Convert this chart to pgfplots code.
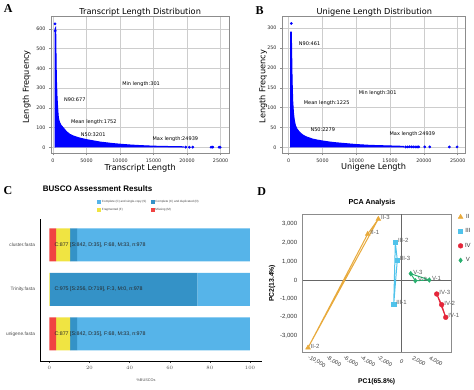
\documentclass[border=0pt]{standalone}
\usepackage{fontspec}
\setmainfont{Liberation Sans}
\newfontfamily\dv{DejaVu Sans}
\newfontfamily\tnr{Liberation Serif}
\usepackage{pgfplots}
\pgfplotsset{compat=1.18}
\definecolor{bscS}{HTML}{56B4E9}
\definecolor{bscD}{HTML}{3492C7}
\definecolor{bscF}{HTML}{F0E442}
\definecolor{bscM}{HTML}{F04442}
\definecolor{cII}{RGB}{232,170,60}
\definecolor{cIII}{RGB}{80,195,235}
\definecolor{cIV}{RGB}{228,38,58}
\definecolor{cV}{RGB}{40,175,110}
\definecolor{gridg}{RGB}{205,205,205}
\definecolor{frameg}{RGB}{140,140,140}
\tikzset{ann/.style={anchor=west, inner sep=0pt, font=\dv\fontsize{5}{6}\selectfont},
  barlab/.style={anchor=west, inner sep=0pt, font=\fontsize{5.3}{6}\selectfont, text=black!85}}
\pgfplotsset{
  every axis title/.style={},
  mplstyle/.style={scale only axis, axis line style={frameg, line width=0.6pt},
    grid=major, grid style={gridg, line width=0.5pt},
    tick align=outside, major tick length=2pt, tick style={frameg, line width=0.5pt},
    xtick pos=left, ytick pos=left,
    ticklabel style={font=\dv\fontsize{4.8}{5.2}\selectfont, text=black!85},
    /pgf/number format/assume math mode=true, /pgf/number format/1000 sep={},
    scaled ticks=false, xtick={0,5000,...,25000},
    title style={font=\dv\fontsize{8.2}{9}\selectfont, anchor=base},
    label style={font=\dv\fontsize{8.2}{9}\selectfont},
    every axis plot/.append style={blue}}
}
\begin{document}
\begin{tikzpicture}[x=1pt,y=1pt]
\path[use as bounding box] (0,0) rectangle (474,389);
% ---------------- A
\begin{axis}[mplstyle, at={(51pt,235.5pt)}, anchor=south west, width=178.3pt, height=137.5pt,
  xmin=-300, xmax=26300, ymin=-31, ymax=665, ytick={0,100,...,600},
  title={Transcript Length Distribution}, title style={at={(0.5,1.0095)}},
  xlabel={Transcript Length}, xlabel style={at={(0.5,-0.1055)}, anchor=center},
  ylabel={Length Frequency}, ylabel style={at={(-0.1363,0.484)}, anchor=center}]
\addplot[fill=blue, draw=blue, line width=1pt] coordinates {(301,0) (301,600) (380,605) (420,560) (460,430) (520,330) (600,255) (700,195) (800,150) (900,135) (1000,125) (1200,112) (1500,100) (2000,80) (2500,66) (3000,58) (3500,52) (4000,47) (5000,39) (6000,33) (7000,27) (8000,23) (9000,19) (10000,16) (11500,12) (13000,9) (15000,6) (17000,4.5) (19500,3) (19500,0)};
\addplot[only marks, mark=*, mark size=1.2pt] coordinates {(301,625) (330,590) (19800,1) (20340,1) (20850,1) (23580,1) (23830,1) (24780,1) (24939,1)};
\node[ann] at (axis cs:10300,320) {Min length:301};
\node[ann] at (axis cs:1630,242) {N90:677};
\node[ann] at (axis cs:2660,130) {Mean length:1752};
\node[ann] at (axis cs:4140,64) {N50:3201};
\node[ann] at (axis cs:14840,44) {Max length:24939};
\end{axis}
% ---------------- B
\begin{axis}[mplstyle, at={(282pt,235.7pt)}, anchor=south west, width=183.3pt, height=136.6pt,
  xmin=-990, xmax=26120, ymin=-15, ymax=329, ytick={0,50,...,300},
  title={Unigene Length Distribution}, title style={at={(0.5036,1.0146)}},
  xlabel={Unigene Length}, xlabel style={at={(0.5,-0.105)}, anchor=center},
  ylabel={Length Frequency}, ylabel style={at={(-0.1037,0.4876)}, anchor=center}]
\addplot[fill=blue, draw=blue, line width=1pt] coordinates {(301,0) (301,290) (380,290) (430,250) (480,190) (540,145) (600,115) (700,88) (800,72) (900,62) (1000,55) (1200,47) (1500,40) (2000,32) (2500,27) (3000,24) (3500,21) (4000,19) (5000,16) (6000,13.5) (7000,11.5) (8000,10) (9000,8.5) (10000,7) (12000,5) (14000,4) (16000,3) (17000,2.5) (17000,0)};
\addplot[only marks, mark=*, mark size=1.2pt] coordinates {(385,312) (5000,9) (17300,1) (17600,1) (17900,1.5) (18200,1) (18500,1) (18800,1) (19000,1) (19230,1) (20120,1) (20860,1) (23760,1) (24900,1)};
\node[ann] at (axis cs:1480,261) {N90:461};
\node[ann] at (axis cs:10350,136) {Min length:301};
\node[ann] at (axis cs:2220,111) {Mean length:1225};
\node[ann] at (axis cs:3200,45) {N50:2279};
\node[ann] at (axis cs:14900,34) {Max length:24939};
\end{axis}
% ---------------- C
\begin{axis}[at={(40pt,28pt)}, anchor=south west, scale only axis, width=222pt, height=142pt,
  xbar stacked, bar width=33pt, xmin=-4.65, xmax=106, ymin=-0.61, ymax=2.58,
  axis lines=left, axis line style={-, black, line width=0.7pt},
  ytick={0,1,2}, yticklabels={unigene.fasta,Trinity.fasta,cluster.fasta},
  xtick={0,20,...,100}, ytick style={draw=none}, xtick style={black!70, line width=0.4pt},
  major tick length=1.5pt, tick align=outside,
  ticklabel style={font=\fontsize{4.8}{5.5}\selectfont, text=black!70},
  xlabel={\%BUSCOs}, xlabel style={at={(0.4775,-0.134)}, anchor=center, font=\fontsize{3.8}{4.5}\selectfont, text=black!70},
  title={BUSCO Assessment Results}, title style={at={(-0.003,1.211)}, anchor=west, font=\bfseries\fontsize{8}{9}\selectfont},
  reverse legend, legend columns=2, legend cell align=left,
  legend style={at={(0.258,1.139)}, anchor=north west, draw=none, fill=none, inner sep=0pt,
    font=\fontsize{3}{3.5}\selectfont, text=black!75, nodes={inner sep=0.5pt},
    row sep=3.5pt, /tikz/every even column/.append style={column sep=4pt}},
  legend image code/.code={\fill[#1] (0pt,-2pt) rectangle (4pt,2pt);},
  after end axis/.code={
    \node[barlab] at (axis cs:2.5,2) {C:877 [S:842, D:35], F:68, M:33, n:978};
    \node[barlab] at (axis cs:2.5,1) {C:975 [S:256, D:719], F:3, M:0, n:978};
    \node[barlab] at (axis cs:2.5,0) {C:877 [S:842, D:35], F:68, M:33, n:978};
  }]
\addplot[fill=bscM, draw=none] coordinates {(3.37,2) (0,1) (3.37,0)};
\addlegendentry{Missing (M)}
\addplot[fill=bscF, draw=none] coordinates {(6.95,2) (0.31,1) (6.95,0)};
\addlegendentry{Fragmented (F)}
\addplot[fill=bscD, draw=none] coordinates {(3.58,2) (73.52,1) (3.58,0)};
\addlegendentry{Complete (C) and duplicated (D)}
\addplot[fill=bscS, draw=none] coordinates {(86.09,2) (26.18,1) (86.09,0)};
\addlegendentry{Complete (C) and single-copy (S)}
\end{axis}
% ---------------- D
\begin{axis}[at={(302.7pt,37pt)}, anchor=south west, scale only axis, width=148.3pt, height=138pt,
  xmin=-11650, xmax=5800, ymin=-3877, ymax=3554,
  axis line style={frameg, line width=0.8pt},
  xtick={-10000,-8000,...,4000}, ytick={-3000,-2000,...,3000}, major tick length=0pt,
  ticklabel style={font=\fontsize{6}{7}\selectfont, text=black!80},
  /pgf/number format/assume math mode=true, /pgf/number format/1000 sep={,}, scaled ticks=false,
  xticklabel style={font=\fontsize{5.6}{6}\selectfont, yshift=-9.5pt, rotate=-30, anchor=center}, yticklabel style={xshift=-2pt},
  title={PCA Analysis}, title style={at={(0.467,1.085)}, anchor=center, font=\bfseries\fontsize{7.2}{8}\selectfont},
  xlabel={PC1(65.8\%)}, xlabel style={at={(0.499,-0.2174)}, anchor=center, font=\bfseries\fontsize{6.8}{8}\selectfont},
  ylabel={PC2(13.4\%)}, ylabel style={at={(-0.207,0.498)}, anchor=center, font=\bfseries\fontsize{6.8}{8}\selectfont},
  legend style={at={(1.047,1.0145)}, anchor=north west, draw=none, fill=none, inner sep=0pt,
    font=\fontsize{6}{7}\selectfont, text=black!80, row sep=4.8pt},
  every node near coord/.style={anchor=west, font=\fontsize{6}{7}\selectfont, text=black!65, inner sep=0pt, xshift=2.5pt, yshift=1.5pt}]
\addplot[black!60, line width=0.8pt, forget plot] coordinates {(-11650,0) (5800,0)};
\addplot[black!60, line width=0.8pt, forget plot] coordinates {(0,-3877) (0,3554)};
\addplot[cII, line width=1pt, forget plot] coordinates {(-4000,2477) (-11020,-3645) (-2750,3285) (-4000,2477)};
\addplot[cIII, line width=1pt, forget plot] coordinates {(-940,-1310) (-750,2030) (-520,1077) (-940,-1310)};
\addplot[cIV, line width=1pt, forget plot] coordinates {(5180,-2010) (4700,-1330) (4120,-754) (5180,-2010)};
\addplot[cV, line width=1pt, forget plot] coordinates {(3250,0) (1600,-40) (1060,340) (3250,0)};
\addplot[only marks, cII, mark=triangle*, mark size=2.8pt, nodes near coords, point meta=explicit symbolic] coordinates {(-4000,2477)[II-1] (-11020,-3645)[II-2] (-2750,3285)[II-3]};
\addlegendentry{II}
\addplot[only marks, cIII, mark=square*, mark size=2.1pt, nodes near coords, point meta=explicit symbolic] coordinates {(-940,-1310)[III-1] (-750,2030)[III-2] (-520,1077)[III-3]};
\addlegendentry{III}
\addplot[only marks, cIV, mark=*, mark size=2.4pt, nodes near coords, point meta=explicit symbolic] coordinates {(5180,-2010)[IV-1] (4700,-1330)[IV-2] (4120,-754)[IV-3]};
\addlegendentry{IV}
\addplot[only marks, cV, mark=diamond*, mark size=2.4pt, nodes near coords, point meta=explicit symbolic] coordinates {(3250,0)[V-1] (1600,-40)[V-2] (1060,340)[V-3]};
\addlegendentry{V}
\end{axis}
% panel letters
\node[font=\tnr\bfseries\fontsize{12}{12}\selectfont] at (8.3,380) {A};
\node[font=\tnr\bfseries\fontsize{12}{12}\selectfont] at (259.5,378.7) {B};
\node[font=\tnr\bfseries\fontsize{12}{12}\selectfont] at (8,198.5) {C};
\node[font=\tnr\bfseries\fontsize{12}{12}\selectfont] at (261.7,197.8) {D};
\end{tikzpicture}
\end{document}
